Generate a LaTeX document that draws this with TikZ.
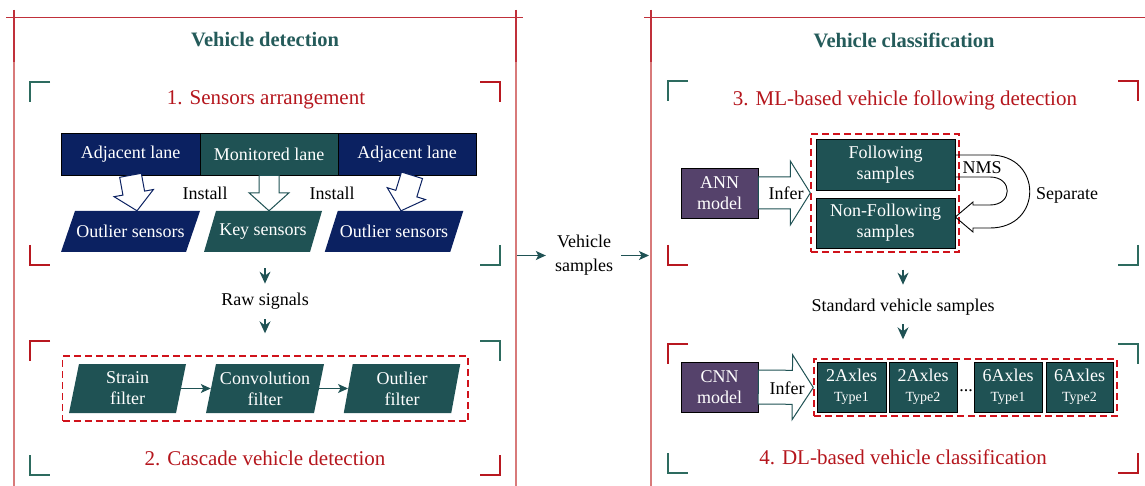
\documentclass[tikz,border=0pt]{standalone}
\usepackage{fontspec}
\setmainfont{Liberation Serif}
\usetikzlibrary{calc,arrows.meta}
\definecolor{navy}{HTML}{0B2161}
\definecolor{tealbox}{HTML}{1F5254}
\definecolor{tealtxt}{HTML}{245B5A}
\definecolor{tealbrk}{HTML}{2D6B5F}
\definecolor{purp}{HTML}{55426B}
\definecolor{redtxt}{HTML}{B5161D}
\definecolor{redbrk}{HTML}{B81820}
\definecolor{dashred}{HTML}{D0121B}
\definecolor{framedark}{HTML}{C0303A}
\definecolor{framepink}{HTML}{D87A7A}
\definecolor{arrteal}{HTML}{1F5254}

% parallelogram: name, cx, cy, mid width, height, half slant, colour, text
\newcommand\mypara[8]{%
  \fill[#7] ({#2-#4/2-#6},{#3+#5/2}) -- ({#2+#4/2-#6},{#3+#5/2}) -- ({#2+#4/2+#6},{#3-#5/2}) -- ({#2-#4/2+#6},{#3-#5/2}) -- cycle;
  \node[lbl, text=white, minimum width=#4, minimum height=#5] (#1) at (#2,#3) {#8};
}
% hollow block arrow: from, to, shaft half, head half, head length, style
\newcommand\blockarrow[6]{%
  \path (#1) coordinate (bT) (#2) coordinate (bP);
  \path ($(bP)!#5pt!(bT)$) coordinate (bH);
  \filldraw[fill=white, line width=1pt, line join=miter, #6]
    ($(bT)!#3pt!90:(bP)$) -- ($(bH)!#3pt!90:(bP)$) -- ($(bH)!#4pt!90:(bP)$) -- (bP)
    -- ($(bH)!#4pt!-90:(bP)$) -- ($(bH)!#3pt!-90:(bP)$) -- ($(bT)!#3pt!-90:(bP)$) -- cycle;
}
\newcommand\bTL[3]{\draw[brk,#3] ({#1+20},#2) -- (#1,#2) -- (#1,{#2+20});}
\newcommand\bTR[3]{\draw[brk,#3] ({#1-20},#2) -- (#1,#2) -- (#1,{#2+20});}
\newcommand\bBL[3]{\draw[brk,#3] (#1,{#2-20}) -- (#1,#2) -- ({#1+20},#2);}
\newcommand\bBR[3]{\draw[brk,#3] (#1,{#2-20}) -- (#1,#2) -- ({#1-20},#2);}

\begin{document}
\begin{tikzpicture}[x=1pt,y=-1pt,
  body/.style={font=\fontsize{18}{21}\selectfont},
  lbl/.style={body, inner sep=0pt, align=center},
  box/.style={lbl, draw=black, line width=0.6pt, text=white},
  title/.style={inner sep=0pt, text=tealtxt, font=\fontsize{20.5}{24}\selectfont\bfseries},
  head/.style={inner sep=0pt, text=redtxt, font=\fontsize{21}{24}\selectfont},
  arr/.style={draw=arrteal, line width=1.2pt, -{Stealth[length=10pt,width=9pt,inset=2.5pt]}},
  arrv/.style={draw=arrteal, line width=1.2pt, -{Stealth[length=12pt,width=11pt,inset=4pt]}},
  dbox/.style={draw=dashred, dash pattern=on 7pt off 4pt, line width=1.4pt, inner sep=0pt},
  brk/.style={line width=2.6pt},
  fr/.style={line width=1.3pt}]
\useasboundingbox (0,0) rectangle (1145,486);

% ---------- frames ----------
\draw[fr, framepink] (14,10) -- (14,486);
\draw[fr, framepink] (516,10) -- (516,486);
\draw[fr, framepink] (651,10) -- (651,486);
\draw[fr, framedark] (14,10) -- (14,62);
\draw[fr, framedark] (516,10) -- (516,62);
\draw[fr, framedark] (651,10) -- (651,62);
\draw[fr, framedark] (6,17.5) -- (523,17.5);
\draw[fr, framedark] (644,17.5) -- (1145,17.5);

% ---------- titles ----------
\node[title] (t1) at (265,40) {Vehicle detection};
\node[title] (t2) at (904,40) {Vehicle classification};
\node[head] (h1) at (266,100) {1. Sensors arrangement};
\node[head] (h2) at (265,458) {2. Cascade vehicle detection};
\node[head] (h3) at (905,100) {3. ML-based vehicle following detection};
\node[head] (h4) at (903,457) {4. DL-based vehicle classification};

% ---------- brackets ----------
\bTL{30}{82}{tealbrk}  \bTR{500}{82}{redbrk}  \bBL{30}{265}{redbrk}  \bBR{500}{265}{tealbrk}
\bTL{30}{341}{redbrk}  \bTR{500}{341}{tealbrk} \bBL{30}{475}{tealbrk} \bBR{500}{475}{redbrk}
\bTL{668}{81}{tealbrk} \bTR{1138}{81}{redbrk} \bBL{668}{265}{redbrk} \bBR{1138}{265}{tealbrk}
\bTL{668}{344}{redbrk} \bTR{1138}{344}{tealbrk} \bBL{668}{473}{tealbrk} \bBR{1138}{473}{redbrk}

% ---------- section 1 ----------
\node[box, fill=navy, minimum width=139, minimum height=42] (lane1) at (130.5,154) {Adjacent lane};
\node[box, fill=tealbox, minimum width=138, minimum height=42] (lane2) at (269,154) {Monitored lane};
\node[box, fill=navy, minimum width=138, minimum height=42] (lane3) at (407,154) {Adjacent lane};

\mypara{s1}{130.5}{231.5}{125}{41}{7}{navy}{Outlier sensors}
\mypara{s2}{263}{231.5}{106}{41}{6}{tealbox}{Key sensors}
\mypara{s3}{394}{231.5}{125.5}{41}{6.5}{navy}{Outlier sensors}

\blockarrow{lane1.south}{$(s1.north)+(6.5,0)$}{11}{20}{18}{draw=navy}
\blockarrow{lane2.south}{$(s2.north)+(6,0)$}{10}{20}{18}{draw=tealbox}
\blockarrow{$(lane3.south)+(5,0)$}{$(s3.north)+(7,0)$}{11}{20}{18}{draw=navy}

\node[lbl] (ins1) at (205,193) {Install};
\node[lbl] (ins2) at (332,193) {Install};

\node[lbl] (raw) at (265,301) {Raw signals};
\draw[arrv, shorten <=16pt, shorten >=9pt] (raw |- s2.south) -- (raw.north);

% ---------- section 2 ----------
\node[dbox, minimum width=405.5, minimum height=65] (dash2) at (265.25,388.5) {};
\draw[arrv, shorten <=10pt, shorten >=22pt] (raw.south) -- (raw |- dash2.north);

\mypara{f1}{127.5}{388.5}{107}{49}{5}{tealbox}{Strain\\filter}
\mypara{f2}{265}{388.5}{108}{49}{5}{tealbox}{Convolution\\filter}
\mypara{f3}{402}{388.5}{107.5}{49}{4.5}{tealbox}{Outlier\\filter}
\draw[arr] (f1) -- (f2);
\draw[arr] (f2) -- (f3);

% ---------- middle ----------
\coordinate (lf) at (516,255.5);
\coordinate (rf) at (651,255.5);
\node[lbl, font=\fontsize{18}{24}\selectfont] (vs) at (584,255.5) {Vehicle\\samples};
\draw[arr, shorten <=1pt, shorten >=9pt] (lf) -- (vs);
\draw[arr, shorten <=8pt, shorten >=2pt] (vs) -- (rf);

% ---------- section 3 ----------
\node[box, fill=purp, minimum width=77, minimum height=50] (ann) at (719.5,193) {ANN\\model};
\node[dbox, minimum width=148, minimum height=118] (dash3) at (885,193) {};
\blockarrow{ann.east}{dash3.west}{16}{32}{20}{draw=tealbox}
\node[lbl] (inf1) at (786,193) {Infer};
\node[box, fill=tealbox, minimum width=139, minimum height=51] (fol) at (885.5,164.5) {Following\\samples};
\node[box, fill=tealbox, minimum width=139, minimum height=50] (nfol) at (885.5,223) {Non-Following\\samples};

\draw[line width=0.9pt, black, line join=miter] (fol.east |- 0,155) -- (990,155)
  .. controls (1043,155) and (1043,228) .. (990,228) -- (973,228) -- (973,232)
  -- (nfol.east |- 0,217) -- (973,202) -- (973,205) -- (990,205)
  .. controls (1013,205) and (1013,177) .. (990,177) -- (fol.east |- 0,177);
\node[lbl] (nms) at (982,168) {NMS};
\node[lbl] (sep) at (1067,195) {Separate};

\node[lbl] (std) at (903,307) {Standard vehicle samples};
\draw[arrv, shorten <=17pt, shorten >=14pt] (std |- dash3.south) -- (std.north);

% ---------- section 4 ----------
\node[dbox, minimum width=303, minimum height=57] (dash4) at (965.5,387.5) {};
\draw[arrv, shorten <=9pt, shorten >=19pt] (std.south) -- (std |- dash4.north);
\node[box, fill=purp, minimum width=77, minimum height=50] (cnn) at (719.5,387) {CNN\\model};
\blockarrow{cnn.east}{dash4.west}{17}{32.5}{21}{draw=tealbox}
\node[lbl] (inf2) at (787,388) {Infer};

\node[box, fill=tealbox, minimum width=69, minimum height=50] (c1) at (851.5,387) {2Axles\\[-1pt]{\fontsize{14}{14}\selectfont Type1}};
\node[box, fill=tealbox, minimum width=68, minimum height=50] (c2) at (923,387) {2Axles\\[-1pt]{\fontsize{14}{14}\selectfont Type2}};
\node[lbl, anchor=base] (dots) at (966,391) {...};
\node[box, fill=tealbox, minimum width=68, minimum height=50] (c3) at (1008,387) {6Axles\\[-1pt]{\fontsize{14}{14}\selectfont Type1}};
\node[box, fill=tealbox, minimum width=67, minimum height=50] (c4) at (1079.5,387) {6Axles\\[-1pt]{\fontsize{14}{14}\selectfont Type2}};
\end{tikzpicture}
\end{document}
